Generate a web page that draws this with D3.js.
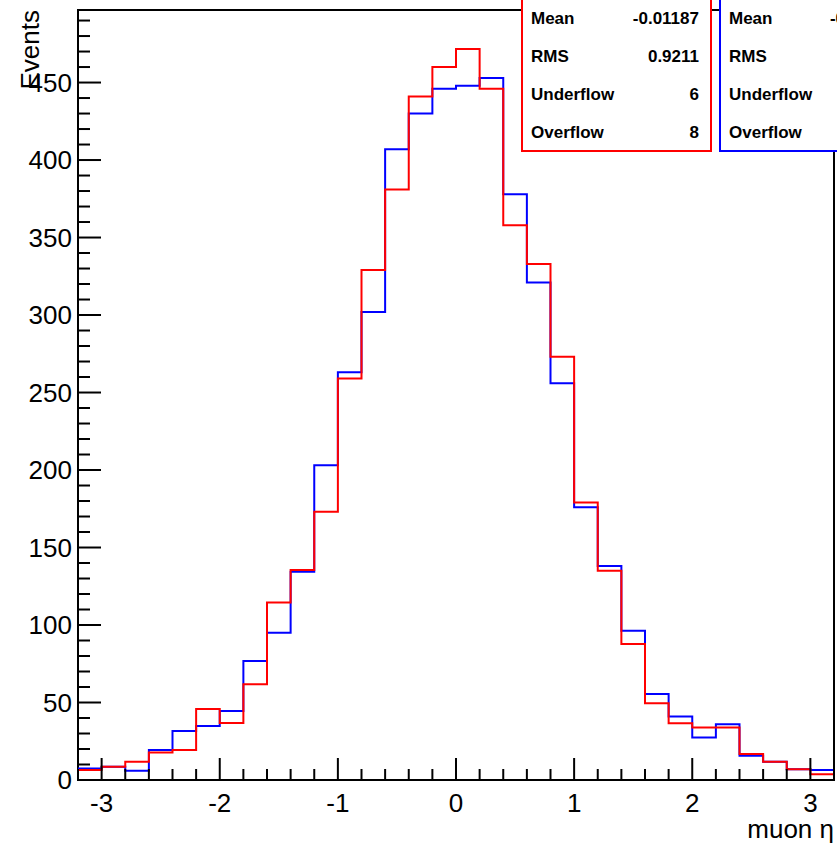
<!DOCTYPE html>
<html>
<head>
<meta charset="utf-8">
<script src="https://cdn.jsdelivr.net/npm/d3@7"></script>
<style>
  body { margin: 0; background: #fff; }
  text { font-family: "Liberation Sans", Arial, sans-serif; }
</style>
</head>
<body>
<svg id="canvas" width="837" height="846"></svg>
<script>
// bin low edges, width 0.2
const binEdges = d3.range(32).map(i => -3.2 + i * 0.2);
const blueCounts = [7.5, 8.6, 6, 19.4, 31.6, 34.8, 44.5, 76.8, 95, 134.4, 203, 263, 302, 407, 430, 446, 448, 453, 378, 321, 256, 176, 138, 96.3, 55.5, 40.9, 27.5, 35.9, 15.7, 11.8, 6.9, 6.5];
const redCounts = [6.5, 8.6, 11.8, 17.8, 19.4, 45.8, 36.8, 61.7, 114.6, 135.5, 173, 259, 329, 381, 441, 460, 471.6, 446, 358, 333, 273, 179, 135, 87.7, 49.5, 36.6, 33.8, 33.8, 16.8, 11.8, 6.9, 3.7];
const xTicks = [-3, -2, -1, 0, 1, 2, 3];
const yTicks = [0, 50, 100, 150, 200, 250, 300, 350, 400, 450];
const redStats = [["Mean", "-0.01187"], ["RMS", "0.9211"], ["Underflow", "6"], ["Overflow", "8"]];
const blueStats = [["Mean", "-0.02312"], ["RMS", "0.9258"], ["Underflow", "5"], ["Overflow", "9"]];

const svg = d3.select('#canvas');
const padL = 78, padR = 834, padT = 10, padB = 780;

const x = d3.scaleLinear().domain([-3.2, 3.2]).range([padL, padR]);
const y = d3.scaleLinear().domain([0, 496.8]).range([padB, padT]);

// frame
svg.append('rect')
    .attr('x', padL).attr('y', padT)
    .attr('width', padR - padL).attr('height', padB - padT)
    .attr('fill', 'none').attr('stroke', 'black').attr('stroke-width', 2);

// histograms as step lines
function stepPath(counts){
    let pts = [];
    counts.forEach((c, i) => {
        pts.push([x(binEdges[i]), y(c)]);
        pts.push([x(binEdges[i] + 0.2), y(c)]);
    });
    return d3.line()(pts);
}
svg.append('path').attr('d', stepPath(blueCounts))
    .attr('fill', 'none').attr('stroke', '#0000ff').attr('stroke-width', 2);
svg.append('path').attr('d', stepPath(redCounts))
    .attr('fill', 'none').attr('stroke', '#ff0000').attr('stroke-width', 2);

// y ticks (inward)
const yMinor = d3.range(0, 497, 10);
svg.selectAll('.ymin').data(yMinor).join('line')
    .attr('x1', padL).attr('x2', d => padL + (d % 50 === 0 ? 23 : 12))
    .attr('y1', d => y(d)).attr('y2', d => y(d))
    .attr('stroke', 'black').attr('stroke-width', 2);
svg.selectAll('.ylab').data(yTicks).join('text')
    .attr('x', 72).attr('y', d => y(d) + 9)
    .attr('text-anchor', 'end').attr('font-size', 26)
    .text(d => d);

// x ticks (inward)
const xMinor = d3.range(-32, 33, 2).map(v => v / 10);
svg.selectAll('.xmin').data(xMinor).join('line')
    .attr('x1', d => x(d)).attr('x2', d => x(d))
    .attr('y1', padB).attr('y2', d => padB - (Math.abs(d - Math.round(d)) < 1e-6 ? 22 : 11))
    .attr('stroke', 'black').attr('stroke-width', 2);
svg.selectAll('.xlab').data(xTicks).join('text')
    .attr('x', d => x(d)).attr('y', 812)
    .attr('text-anchor', 'middle').attr('font-size', 26)
    .text(d => d);

// axis titles
svg.append('text').attr('x', 834).attr('y', 838)
    .attr('text-anchor', 'end').attr('font-size', 26).text('muon η');
svg.append('text').attr('transform', 'translate(39,10) rotate(-90)')
    .attr('text-anchor', 'end').attr('font-size', 26).text('Events');

// stats boxes
function statsBox(x0, color, rows){
    const w = 189;
    svg.append('rect').attr('x', x0).attr('y', -60)
        .attr('width', w).attr('height', 211)
        .attr('fill', 'white').attr('stroke', color).attr('stroke-width', 2);
    const g = svg.append('g').attr('font-size', 17).attr('font-weight', 'bold');
    rows.forEach((r, i) => {
        g.append('text').attr('x', x0 + 9).attr('y', 24 + i * 38).text(r[0]);
        g.append('text').attr('x', x0 + w - 12).attr('y', 24 + i * 38)
            .attr('text-anchor', 'end').text(r[1]);
    });
}
statsBox(522, '#ff0000', redStats);
statsBox(720, '#0000ff', blueStats);
</script>
</body>
</html>
